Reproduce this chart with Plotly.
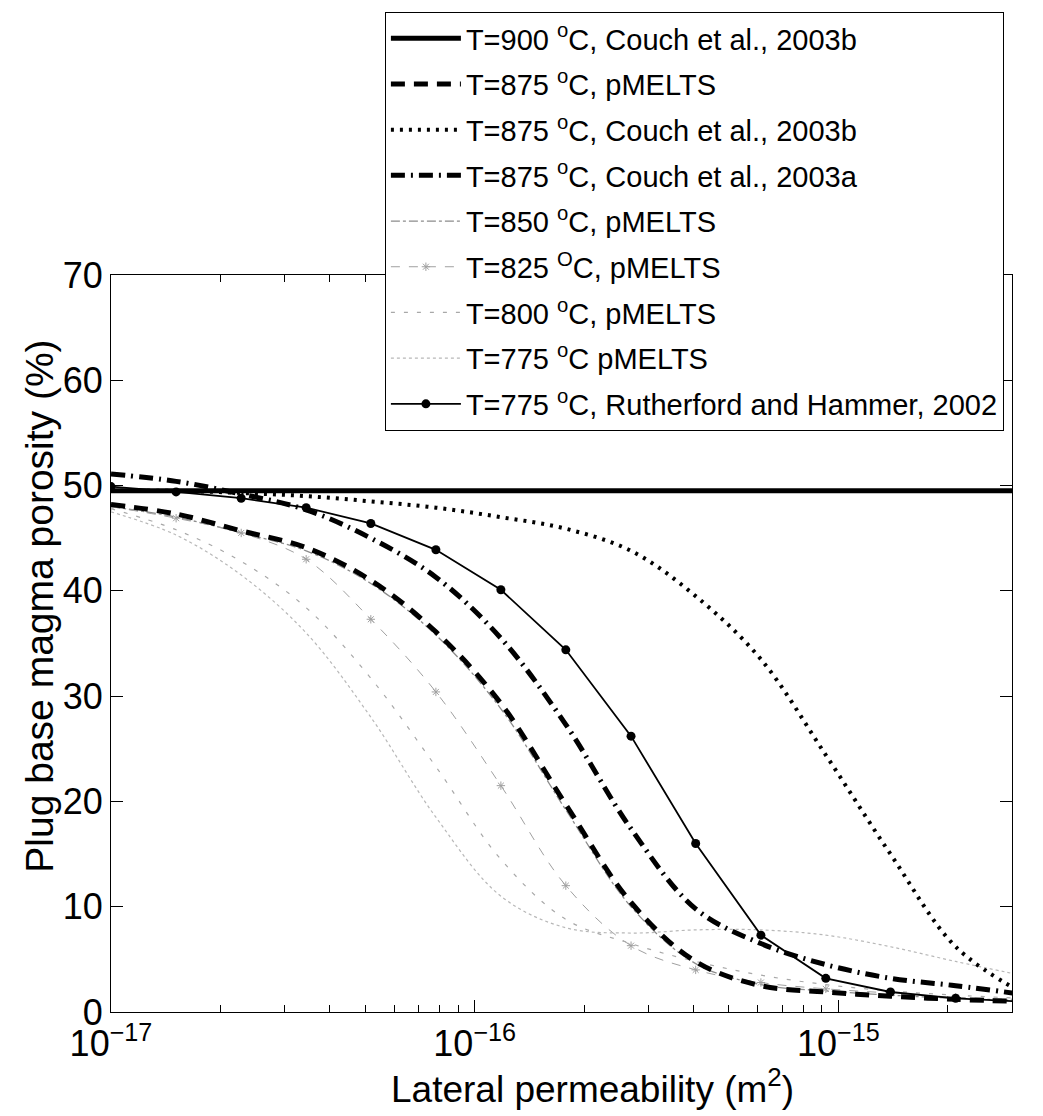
import plotly.graph_objects as go

# Lateral permeability grid (m^2)
permeability = [1.0e-17, 1.51e-17, 2.28e-17, 3.44e-17, 5.18e-17, 7.82e-17, 1.18e-16,
                1.78e-16, 2.69e-16, 4.05e-16, 6.12e-16, 9.23e-16, 1.39e-15, 2.10e-15, 3.17e-15]

# Plug base magma porosity (%)
t900_couch_b = [49.5, 49.5, 49.5, 49.5, 49.5, 49.5, 49.5, 49.5, 49.5, 49.5, 49.5, 49.5, 49.5, 49.5, 49.5]
t875_pmelts = [48.2, 47.3, 45.7, 44.1, 41.0, 36.1, 29.3, 19.7, 10.4, 4.8, 2.5, 1.9, 1.5, 1.2, 1.0]
t875_couch_b = [49.5, 49.5, 49.3, 49.0, 48.5, 47.9, 47.0, 45.9, 43.8, 39.5, 33.5, 24.4, 15.0, 6.2, 1.9]
t875_couch_a = [51.1, 50.4, 49.2, 47.7, 45.0, 41.3, 35.5, 27.3, 17.4, 9.8, 6.5, 4.5, 3.2, 2.5, 1.7]
t850_pmelts = [48.0, 47.0, 45.5, 43.8, 40.7, 35.8, 28.8, 19.2, 10.0, 4.6, 2.6, 2.0, 1.6, 1.3, 1.1]
t825_pmelts = [48.0, 46.9, 45.5, 43.0, 37.3, 30.4, 21.5, 12.0, 6.3, 4.0, 2.8, 2.2, 1.8, 1.4, 1.2]
t800_pmelts = [47.8, 45.8, 42.8, 38.4, 31.7, 23.3, 14.5, 8.8, 6.5, 4.8, 3.5, 2.6, 2.0, 1.6, 1.3]
t775_pmelts = [47.5, 45.3, 41.5, 36.0, 28.0, 18.5, 11.0, 8.0, 7.5, 7.8, 7.8, 7.3, 6.2, 4.8, 3.5]
t775_rutherford = [49.9, 49.4, 48.8, 47.9, 46.4, 43.9, 40.1, 34.4, 26.2, 16.0, 7.3, 3.2, 1.9, 1.3, 1.0]

legend_names = [
    "T=900 <sup>o</sup>C, Couch et al., 2003b",
    "T=875 <sup>o</sup>C, pMELTS",
    "T=875 <sup>o</sup>C, Couch et al., 2003b",
    "T=875 <sup>o</sup>C, Couch et al., 2003a",
    "T=850 <sup>o</sup>C, pMELTS",
    "T=825 <sup>O</sup>C, pMELTS",
    "T=800 <sup>o</sup>C, pMELTS",
    "T=775 <sup>o</sup>C pMELTS",
    "T=775 <sup>o</sup>C, Rutherford and Hammer, 2002",
]

x_tickvals = [1e-17, 1e-16, 1e-15]
x_ticktext = ["10<sup>\u221217</sup>", "10<sup>\u221216</sup>", "10<sup>\u221215</sup>"]
x_minor = [2e-17, 3e-17, 4e-17, 5e-17, 6e-17, 7e-17, 8e-17, 9e-17,
           2e-16, 3e-16, 4e-16, 5e-16, 6e-16, 7e-16, 8e-16, 9e-16, 2e-15, 3e-15]
y_tickvals = [0, 10, 20, 30, 40, 50, 60, 70]
x_title = "Lateral permeability (m<sup>2</sup>)"
y_title = "Plug base magma porosity (%)"

FONT = "Liberation Sans, Arial, Helvetica, sans-serif"

series = [t900_couch_b, t875_pmelts, t875_couch_b, t875_couch_a,
          t850_pmelts, t825_pmelts, t800_pmelts, t775_pmelts, t775_rutherford]

styles = [
    (dict(color="black", width=5, dash="solid"), None),
    (dict(color="black", width=5, dash="14px,9px"), None),
    (dict(color="black", width=4, dash="3px,6px"), None),
    (dict(color="black", width=5, dash="14px,6px,2px,6px"), None),
    (dict(color="#8c8c8c", width=1.3, dash="dashdot"), None),
    (dict(color="#a0a0a0", width=1, dash="dash"),
     dict(symbol="asterisk-open", size=7, color="#a0a0a0", line=dict(width=1, color="#a0a0a0"))),
    (dict(color="#a8a8a8", width=1.2, dash="4px,9px"), None),
    (dict(color="#b8b8b8", width=1.2, dash="dot"), None),
    (dict(color="black", width=1.8, dash="solid"), dict(symbol="circle", size=9, color="black")),
]

draw_order = [4, 5, 6, 7, 0, 1, 2, 3, 8]

fig = go.Figure()
for i in draw_order:
    line, marker = styles[i]
    fig.add_trace(go.Scatter(
        x=permeability, y=series[i], name=legend_names[i],
        mode="lines+markers" if marker else "lines",
        line=line, marker=marker, legendgroup=f"g{i}", legendrank=i + 1,
        line_shape="linear" if i == 8 else "spline",
    ))

fig.update_layout(
    width=1043, height=1116,
    margin=dict(l=111, r=31, t=272, b=104),
    paper_bgcolor="white", plot_bgcolor="white",
    font=dict(family=FONT, color="black"),
    showlegend=True,
    legend=dict(
        x=0.304, y=1.357, xanchor="left", yanchor="top",
        bordercolor="black", borderwidth=1, bgcolor="white",
        font=dict(size=29, family=FONT, color="black"),
        traceorder="grouped", tracegroupgap=5, itemwidth=70,
    ),
    xaxis=dict(
        type="log", range=[-17, -14.5229],
        tickvals=x_tickvals, ticktext=x_ticktext,
        ticks="inside", ticklen=12, tickwidth=1, tickcolor="black",
        minor=dict(tickvals=x_minor, ticks="inside", ticklen=7, tickwidth=1, tickcolor="black"),
        showline=True, linecolor="black", linewidth=1, mirror="ticks",
        showgrid=False, zeroline=False,
        tickfont=dict(size=36, family=FONT),
    ),
    yaxis=dict(
        range=[0, 70], tickvals=y_tickvals,
        ticks="inside", ticklen=12, tickwidth=1, tickcolor="black",
        showline=True, linecolor="black", linewidth=1, mirror="ticks",
        showgrid=False, zeroline=False,
        tickfont=dict(size=36, family=FONT),
    ),
    annotations=[
        dict(text=x_title, xref="paper", yref="paper", x=0.534, y=-0.1355,
             xanchor="center", yanchor="bottom", showarrow=False,
             font=dict(size=37, family=FONT, color="black")),
        dict(text=y_title, xref="paper", yref="paper", x=-0.0788, y=0.55,
             xanchor="center", yanchor="middle", showarrow=False, textangle=-90,
             font=dict(size=39, family=FONT, color="black")),
    ],
)

fig.write_html("out.html")
